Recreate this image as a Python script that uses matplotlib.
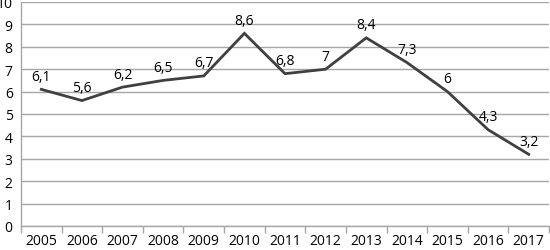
import matplotlib.pyplot as plt
import numpy as np

years = ['2005', '2006', '2007', '2008', '2009', '2010', '2011',
         '2012', '2013', '2014', '2015', '2016', '2017']
values = [6.1, 5.6, 6.2, 6.5, 6.7, 8.6, 6.8, 7.0, 8.4, 7.3, 6.0, 4.3, 3.2]
labels = ['6,1', '5,6', '6,2', '6,5', '6,7', '8,6', '6,8', '7', '8,4',
          '7,3', '6', '4,3', '3,2']

plt.rcParams['font.family'] = ['Open Sans', 'DejaVu Sans']

fig = plt.figure(figsize=(5.5, 2.51), dpi=100)
ax = fig.add_axes([21 / 550, 24 / 251, 528 / 550, 224 / 251])

x = np.arange(len(years))
ax.plot(x, values, color='#404040', lw=2, zorder=3, solid_joinstyle='miter')
for xi, v, t in zip(x, values, labels):
    ax.annotate(t, (xi, v), xytext=(0, 13), textcoords='offset pixels',
                ha='center', va='center', fontsize=10, color='#000000')

ax.set_xlim(-0.5, len(years) - 0.5)
ax.set_ylim(0, 10)
ax.set_yticks(range(0, 11))
ax.yaxis.grid(True, color='#a6a6a6', lw=1)
ax.set_axisbelow(True)

ax.set_xticks(x)
ax.set_xticklabels(years)
ax.set_xticks(np.arange(-0.5, len(years)), minor=True)
ax.tick_params(axis='x', which='major', length=0, pad=5, labelsize=10)
ax.tick_params(axis='x', which='minor', length=5, color='#a6a6a6', width=1)
ax.tick_params(axis='y', length=0, pad=6, labelsize=10)

for s in ['top', 'right']:
    ax.spines[s].set_visible(False)
for s in ['left', 'bottom']:
    ax.spines[s].set_color('#a6a6a6')
    ax.spines[s].set_linewidth(1)

fig.savefig('out.png', dpi=100)
